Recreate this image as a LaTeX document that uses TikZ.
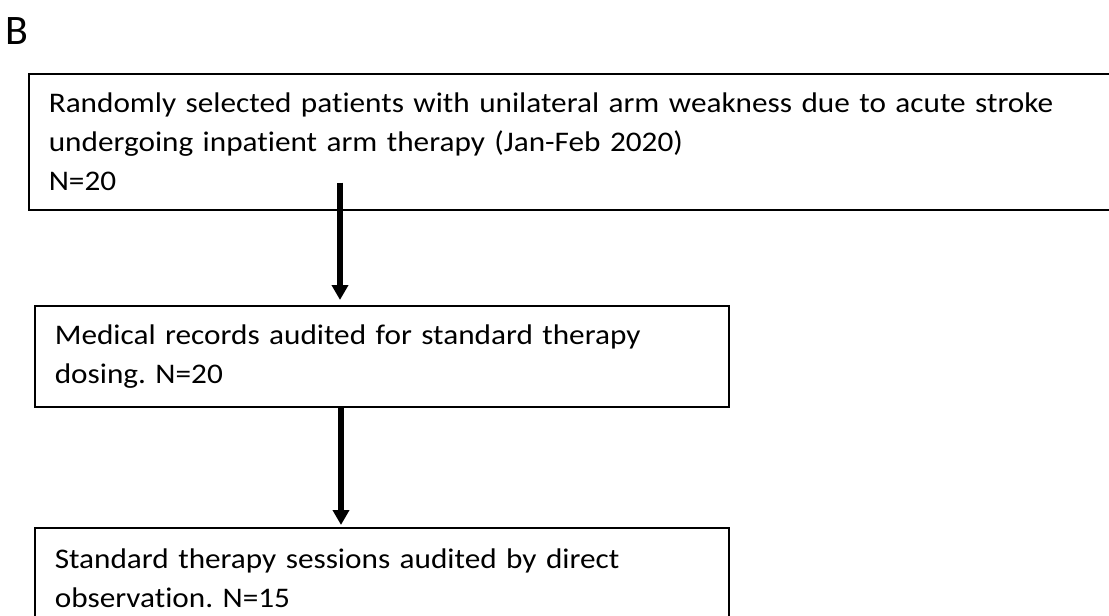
\documentclass[tikz,border=0pt]{standalone}
\usepackage{fontspec}
\setmainfont{Carlito}[Ligatures=NoCommon,FakeStretch=1.1]
\newfontfamily\panelfont{Carlito}
\usetikzlibrary{arrows.meta}
\tikzset{>={Triangle[width=16pt,length=15pt]}}
\tikzset{
  stagebox/.style={draw,line width=1.6pt,rectangle,anchor=north west,
    align=left,inner xsep=20pt,inner ysep=0pt,
    font=\fontsize{28.4}{39}\selectfont},
  flowarrow/.style={->,line width=5.5pt}
}
\frenchspacing

\begin{document}
\begin{tikzpicture}[x=1pt,y=-1pt]
  \useasboundingbox (0,0) rectangle (1109,616);
  \clip (0,0) rectangle (1109,616);

  % panel letter
  \node[anchor=base west,inner sep=0pt,font=\panelfont\fontsize{42}{50}\selectfont]
    (panel) at (5,44) {B};

  % Selected patients
  \node[stagebox,text width=1062pt,minimum height=136pt]
    (selected) at (28,73) {Randomly selected patients with unilateral arm weakness due to acute stroke\\
      undergoing inpatient arm therapy (Jan-Feb 2020)\\
      N=20};

  % Medical records
  \node[stagebox,text width=654pt,minimum height=101pt]
    (records) at (34,305) {Medical records audited for standard therapy\\
      dosing. N=20};

  % Observed sessions
  \node[stagebox,text width=654pt,minimum height=101pt]
    (sessions) at (34,527) {Standard therapy sessions audited by direct\\
      observation. N=15};

  % arrows
  \draw[flowarrow] ([xshift=312pt,yshift=28pt]selected.south west)
    -- ([xshift=306pt,yshift=5pt]records.north west);
  \draw[flowarrow] ([xshift=307pt]records.south west)
    -- ([xshift=307pt,yshift=2pt]sessions.north west);
\end{tikzpicture}
\end{document}
